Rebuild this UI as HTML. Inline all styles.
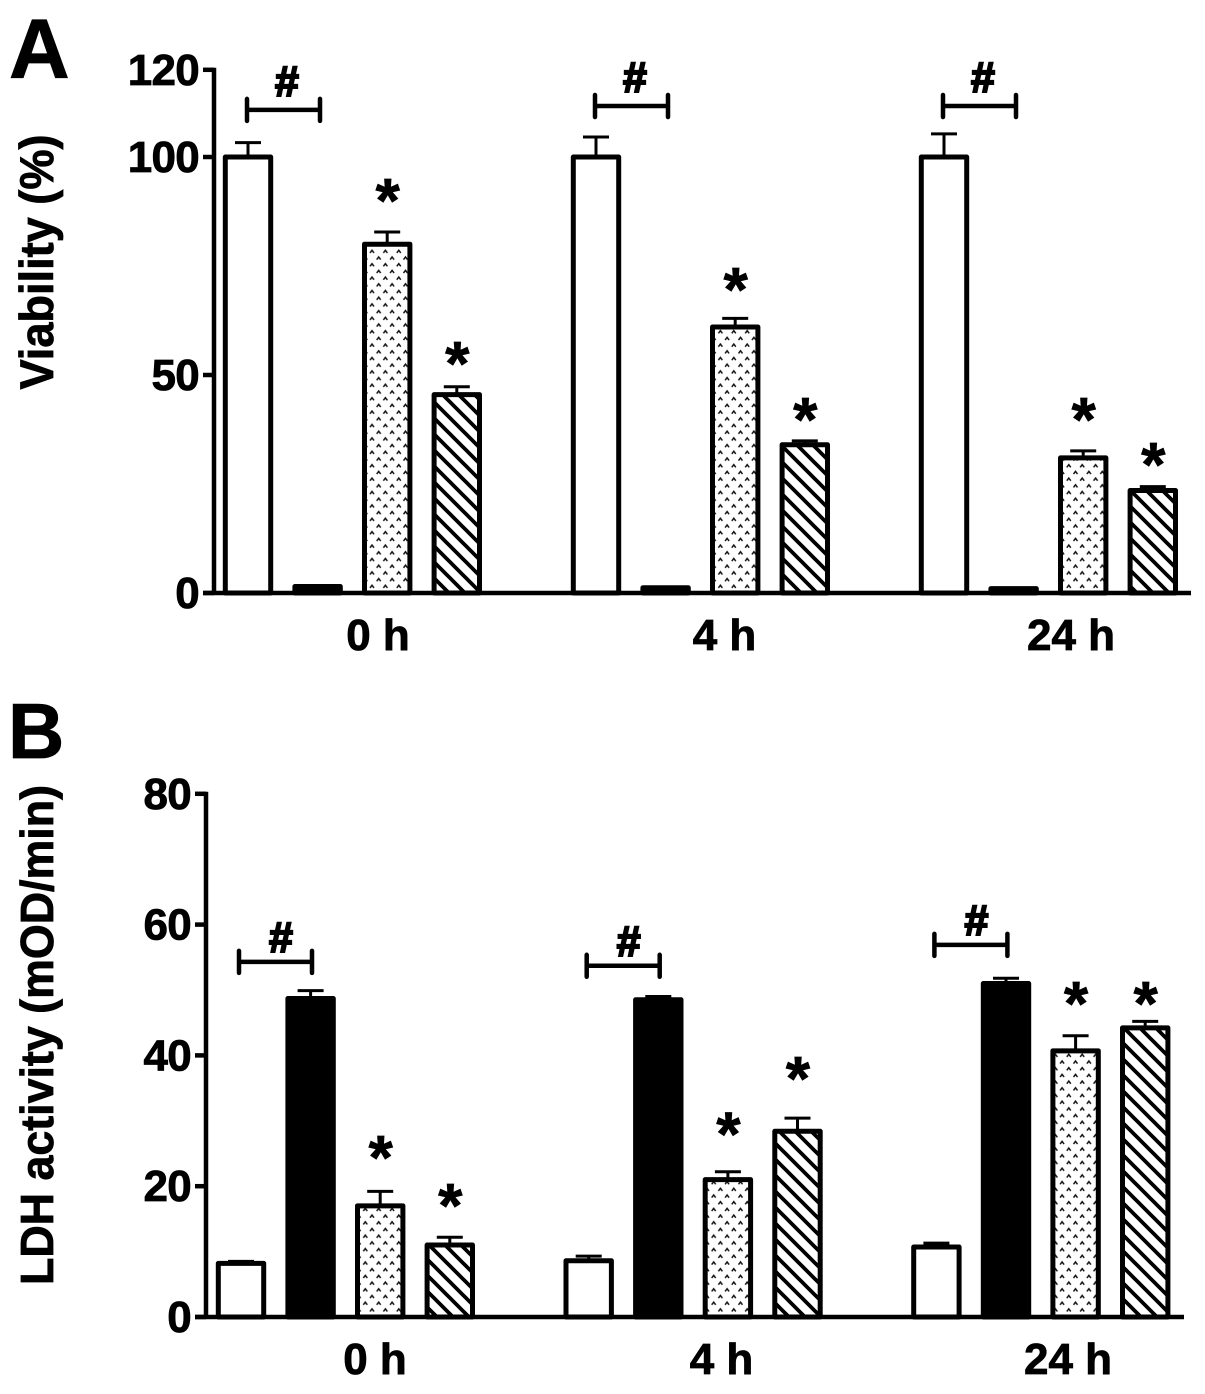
<!DOCTYPE html>
<html>
<head>
<meta charset="utf-8">
<title>Viability and LDH activity</title>
<style>
html,body{margin:0;padding:0;background:#fff;width:1205px;height:1394px;overflow:hidden}
svg{display:block}
text{font-family:"Liberation Sans",Arial,sans-serif;font-weight:bold;fill:#000;stroke:#000;stroke-width:.8px}
</style>
</head>
<body>
<svg id="figure" xmlns="http://www.w3.org/2000/svg" width="1205" height="1394" viewBox="0 0 1205 1394">
<defs>
<pattern id="dots" patternUnits="userSpaceOnUse" width="13.4" height="13.4">
<path d="M1.5 5 L3.5 2.4 L5.5 5 M8.2 11.7 L10.2 9.1 L12.2 11.7" fill="none" stroke="#111" stroke-width="1.5"/>
</pattern>
<pattern id="hatch" patternUnits="userSpaceOnUse" width="16" height="16">
<path d="M-4 12 L4 20 M0 0 L16 16 M12 -4 L20 4" stroke="#000" stroke-width="3.8" fill="none"/>
</pattern>
</defs>
<text x="9" y="78" font-size="84">A</text>
<text x="8" y="758" font-size="78">B</text>
<text transform="translate(53,262) rotate(-90)" text-anchor="middle" font-size="47" textLength="255" lengthAdjust="spacingAndGlyphs">Viability (%)</text>
<text transform="translate(53,1035) rotate(-90)" text-anchor="middle" font-size="46" textLength="500" lengthAdjust="spacingAndGlyphs">LDH activity (mOD/min)</text>
<g id="panelA"></g>
<g id="panelB"></g>
</svg>
<script>
// Shared categories
const timeCategories = ["0 h", "4 h", "24 h"];

// Panel A: viability (%)
const viabilityTicks = [0, 50, 100, 120];
const viabilityControl = [100, 100, 100];
const viabilityInjury = [1.5, 1.2, 1];
const viabilityDotted = [80, 61, 31];
const viabilityHatched = [45.5, 34, 23.5];
const viabilityControlErr = [3.3, 4.6, 5.3];
const viabilityInjuryErr = [0, 0, 0];
const viabilityDottedErr = [2.8, 2, 1.6];
const viabilityHatchedErr = [1.8, 0.9, 0.9];
const viabilityDottedStar = [91.7, 71.3, 41.5];
const viabilityHatchedStar = [54.4, 41.5, 31.2];
const viabilityBracket = [110.8, 111.7, 111.7];

// Panel B: LDH activity (mOD/min)
const ldhTicks = [0, 20, 40, 60, 80];
const ldhControl = [8.2, 8.6, 10.7];
const ldhInjury = [48.7, 48.5, 51];
const ldhDotted = [17, 21, 40.7];
const ldhHatched = [11, 28.4, 44.2];
const ldhControlErr = [0.3, 0.7, 0.6];
const ldhInjuryErr = [1.2, 0.5, 0.8];
const ldhDottedErr = [2.2, 1.2, 2.3];
const ldhHatchedErr = [1.2, 2, 1];
const ldhDottedStar = [25.5, 29.1, 49.1];
const ldhHatchedStar = [18.2, 37.6, 49.1];
const ldhBracket = [54.3, 53.7, 56.9];

const NS = "http://www.w3.org/2000/svg";
function make(parent, tag, attrs, txt) {
  const el = document.createElementNS(NS, tag);
  for (const k in attrs) el.setAttribute(k, attrs[k]);
  if (txt !== undefined) el.textContent = txt;
  parent.appendChild(el);
  return el;
}

function drawPanel(root, o) {
  const y = v => o.y0 - v * o.pxPerUnit;
  const x = (g, s) => o.x0 + g * o.groupStep + s * o.barStep;
  const seriesFill = ["#fff", "#000", "url(#dots)", "url(#hatch)"];
  const seriesNames = ["control", "injury", "dotted", "hatched"];

  timeCategories.forEach((cat, g) => {
    o.series.forEach((vals, s) => {
      const cx = x(g, s);
      const top = y(vals[g]);
      const errTop = y(vals[g] + o.errors[s][g]);

      const stem = make(root, "line", {x1: cx, x2: cx, y1: errTop, y2: top, stroke: "#000", "stroke-width": 3});
      
      
      const cap = make(root, "line", {x1: cx - 13, x2: cx + 13, y1: errTop, y2: errTop, stroke: "#000", "stroke-width": 3});
      
      

      if (s === 2 || s === 3) {
        const bg = make(root, "rect", {x: cx - 22.7, y: top, width: 45.4, height: o.y0 - top, fill: "#fff"});
        
        
      }
      const bar = make(root, "rect", {x: cx - 22.7, y: top, width: 45.4, height: o.y0 - top, fill: seriesFill[s], stroke: "#000", "stroke-width": 5, "stroke-linejoin": "round"});
      
      
    });

    // significance stars
    [[2, o.dottedStar], [3, o.hatchedStar]].forEach(pair => {
      const star = make(root, "text", {x: x(g, pair[0]) + 0.5, y: y(pair[1][g]) + 29, "text-anchor": "middle", "font-size": 62}, "*");
      
      
    });

    // bracket and hash
    const by = y(o.bracket[g]);
    const bx1 = x(g, 0) + o.bracketOffset;
    const bx2 = bx1 + 73;
    const br = make(root, "path", {d: `M${bx1} ${by - 11}V${by + 11}M${bx1} ${by}H${bx2}M${bx2} ${by - 11}V${by + 11}`, fill: "none", stroke: "#000", "stroke-width": 4.5, "stroke-linecap": "round"});
    
    
    const hash = make(root, "text", {x: bx1 + o.hashDx, y: by + o.hashDy, "text-anchor": "middle", "font-size": 43, style: "stroke-width:2px"}, "#");
    
    

    // category label
    const lab = make(root, "text", {x: o.catX + g * o.catStep, y: o.catY, "text-anchor": "middle", "font-size": 44}, cat);
    
    
  });

  // axes
  const top = y(o.ticks[o.ticks.length - 1]);
  const yAxis = make(root, "line", {x1: o.axisX, x2: o.axisX, y1: top - 2, y2: o.y0 + 2, stroke: "#000", "stroke-width": 4.5});
  
  
  const xAxis = make(root, "line", {x1: o.axisX - 11, x2: o.xEnd, y1: o.y0, y2: o.y0, stroke: "#000", "stroke-width": 4.5});
  
  

  o.ticks.forEach(t => {
    const tk = make(root, "line", {x1: o.axisX - 11, x2: o.axisX, y1: y(t), y2: y(t), stroke: "#000", "stroke-width": 4.5});
    
    
    const tl = make(root, "text", {x: o.axisX - 15, y: y(t) + 15, "text-anchor": "end", "font-size": 44, style: "letter-spacing:-0.7px"}, String(t));
    
    
  });
}

drawPanel(document.getElementById("panelA"), {
  y0: 593, pxPerUnit: 4.36, x0: 248, groupStep: 348, barStep: 69.6,
  axisX: 214, xEnd: 1191, catX: 378, catStep: 346.5, catY: 650, bracketOffset: -1,
  hashDx: 40, hashDy: -14,
  ticks: viabilityTicks,
  series: [viabilityControl, viabilityInjury, viabilityDotted, viabilityHatched],
  errors: [viabilityControlErr, viabilityInjuryErr, viabilityDottedErr, viabilityHatchedErr],
  dottedStar: viabilityDottedStar, hatchedStar: viabilityHatchedStar, bracket: viabilityBracket
});

drawPanel(document.getElementById("panelB"), {
  y0: 1317, pxPerUnit: 6.54, x0: 241, groupStep: 347.7, barStep: 69.6,
  axisX: 206, xEnd: 1184, catX: 375, catStep: 346.5, catY: 1374, bracketOffset: -2,
  hashDx: 42, hashDy: -10,
  ticks: ldhTicks,
  series: [ldhControl, ldhInjury, ldhDotted, ldhHatched],
  errors: [ldhControlErr, ldhInjuryErr, ldhDottedErr, ldhHatchedErr],
  dottedStar: ldhDottedStar, hatchedStar: ldhHatchedStar, bracket: ldhBracket
});
</script>
</body>
</html>
